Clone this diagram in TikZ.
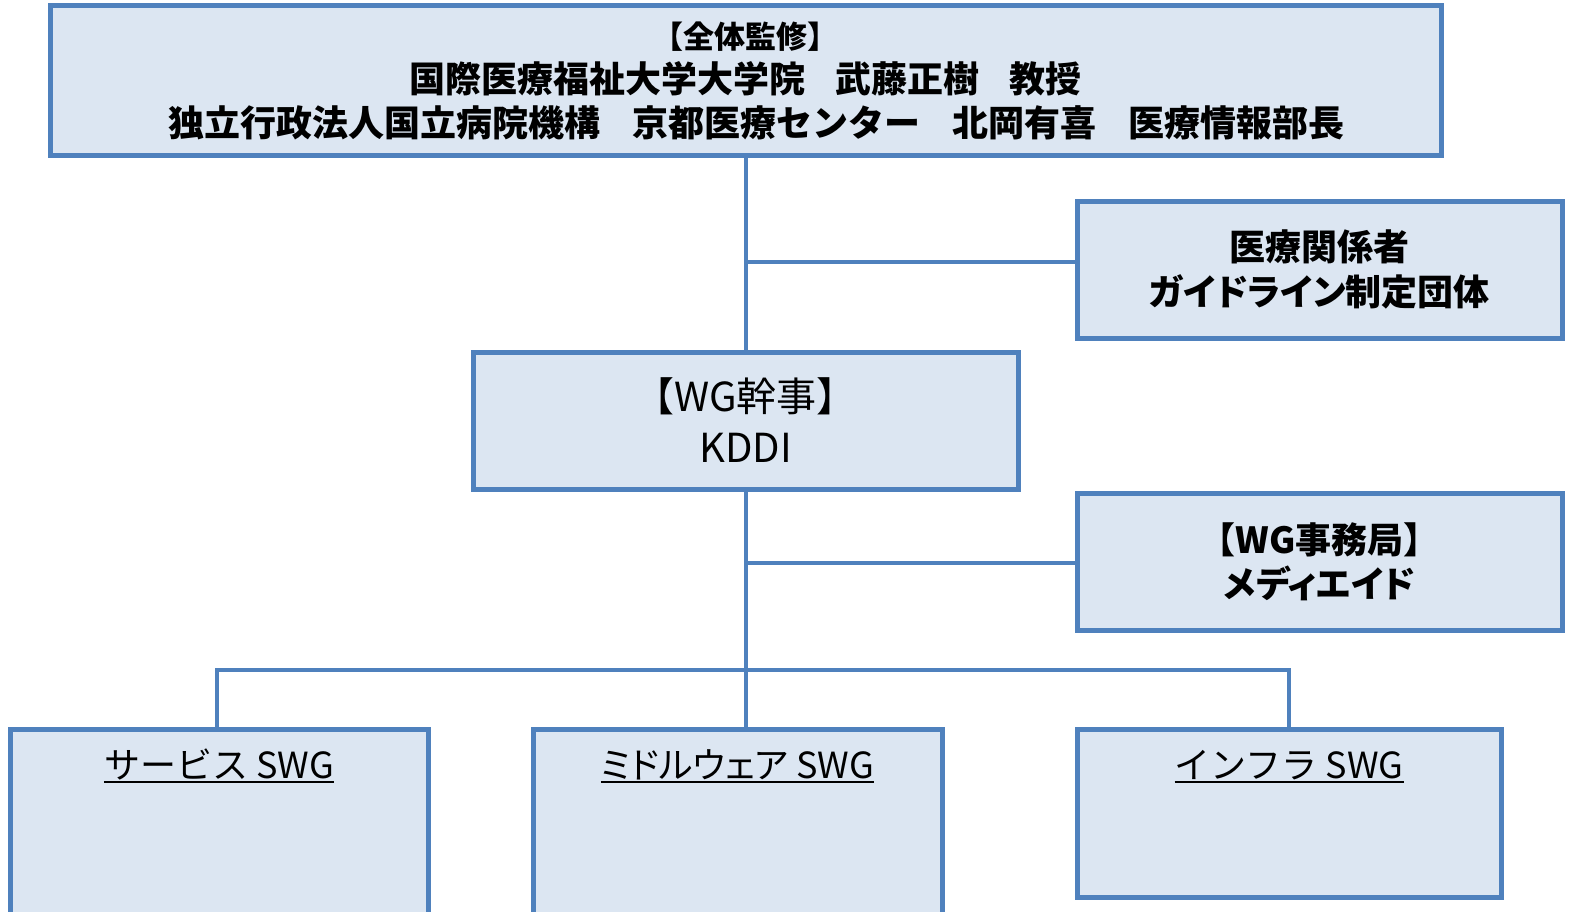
\documentclass[tikz,border=0pt]{standalone}
\usepackage{fontspec}
\setmainfont{Noto Sans CJK JP}
\definecolor{edge}{HTML}{4F81BD}
\definecolor{boxfill}{HTML}{DCE6F2}
\newcommand{\proportional}{\addfontfeature{RawFeature=+palt}}
\begin{document}
\begin{tikzpicture}[x=1pt,y=-1pt,
  box/.style={draw=edge, fill=boxfill, line width=5pt, inner sep=0pt, align=center, text=black},
  link/.style={draw=edge, line width=4pt},
  swgtitle/.style={anchor=base, inner sep=0pt, font=\fontsize{36}{44}\selectfont},
  uline/.style={draw=black, line width=1.6pt}]
\useasboundingbox (0,0) rectangle (1569,911);
% boxes
\node[box, minimum width=1391pt, minimum height=150pt, font=\bfseries\fontsize{36}{44}\selectfont] (top) at (745.5,80.5)
  {{\fontsize{31}{43}\selectfont 【全体監修】}\\ 国際医療福祉大学大学院\hspace{30pt}武藤正樹\hspace{30pt}教授\\ \hspace*{22pt}独立行政法人国立病院機構\hspace{32pt}京都医療センター\hspace{32pt}北岡有喜\hspace{32pt}医療情報部長};
\node[box, minimum width=485pt, minimum height=137pt, font=\bfseries\fontsize{36}{45}\selectfont] (r1) at (1319.5,269.5)
  {医療関係者\\{\proportional ガイドライン制定団体}};
\node[box, minimum width=545pt, minimum height=137pt, font=\fontsize{40}{51}\selectfont] (wg) at (745.5,420.5)
  {【WG幹事】\\KDDI};
\node[box, minimum width=485pt, minimum height=137pt, font=\bfseries\fontsize{36}{44}\selectfont] (r2) at (1319.5,561.5)
  {【WG事務局】\\{\proportional メディエイド}};
\node[box, minimum width=418pt, minimum height=211pt] (left) at (219,834.5) {};
\node[box, minimum width=409pt, minimum height=211pt] (mid) at (737.5,834.5) {};
\node[box, minimum width=424pt, minimum height=168pt] (right) at (1289,813) {};
% titles
\node[swgtitle] (t1) at (219,778) {サービス SWG};
\node[swgtitle] (t2) at (737.5,778) {{\proportional ミドルウェア} SWG};
\node[swgtitle] (t3) at (1289,778) {インフラ SWG};
\draw[uline] ([yshift=-4pt]t1.base west) -- ([yshift=-4pt]t1.base east);
\draw[uline] ([yshift=-4pt]t2.base west) -- ([yshift=-4pt]t2.base east);
\draw[uline] ([yshift=-4pt]t3.base west) -- ([yshift=-4pt]t3.base east);
% connectors
\coordinate (j1) at (745.5,262);
\coordinate (j2) at (745.5,563);
\coordinate (jl) at (217,670);
\coordinate (jr) at (1289,670);
\draw[link] (top.south) -- (wg.north);
\draw[link] (j1) -- (j1 -| r1.west);
\draw[link] (wg.south) -- (wg.south |- mid.north);
\draw[link] (j2) -- (j2 -| r2.west);
\draw[link] (left.north -| jl) -- (jl) -- (jr) -- (right.north);
\end{tikzpicture}
\end{document}
